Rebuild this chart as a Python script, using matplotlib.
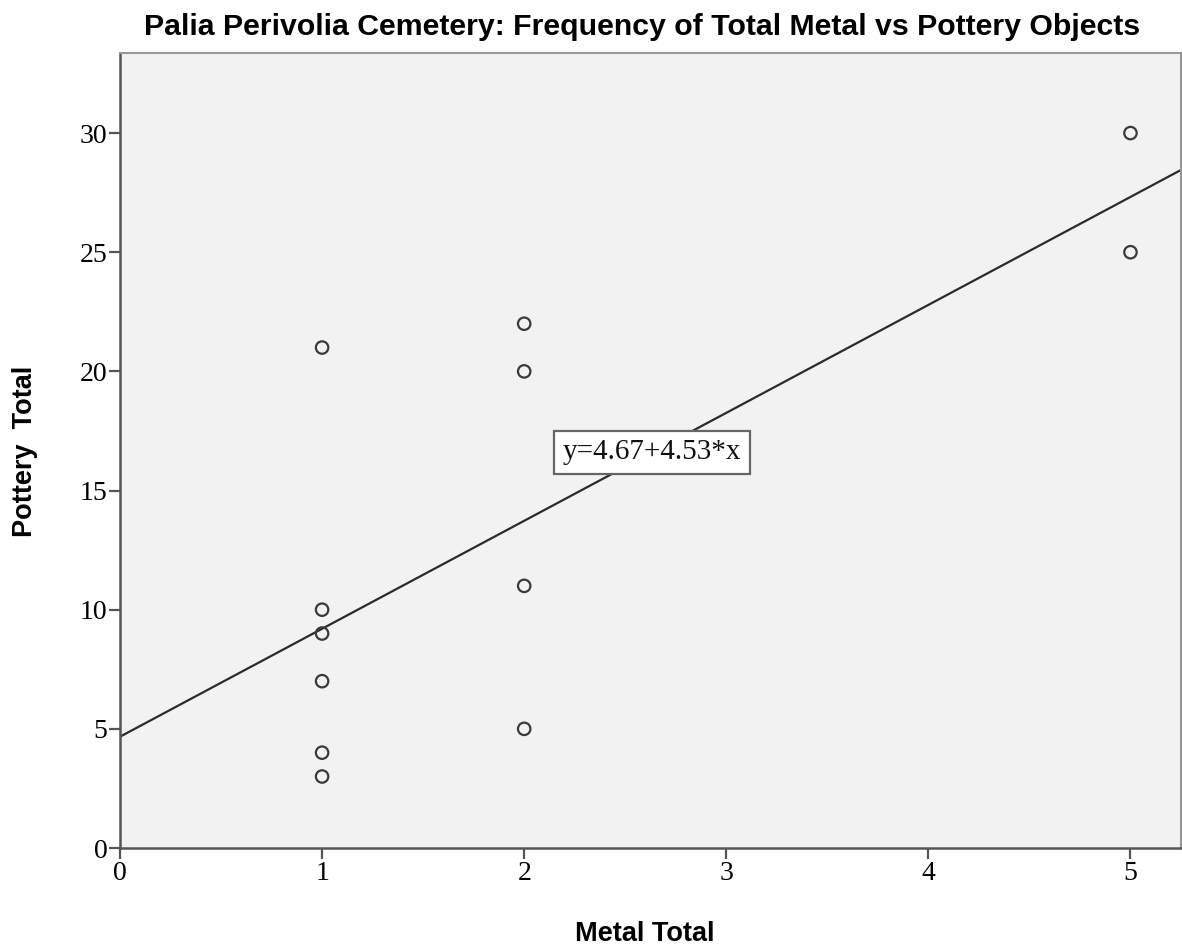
import matplotlib
matplotlib.use("Agg")
import matplotlib.pyplot as plt
import numpy as np

metal_total = [1, 1, 1, 1, 1, 1, 2, 2, 2, 2, 5, 5]
pottery_total = [21, 10, 9, 7, 4, 3, 22, 20, 11, 5, 30, 25]
intercept = 4.67
slope = 4.53
x_ticks = [0, 1, 2, 3, 4, 5]
y_ticks = [0, 5, 10, 15, 20, 25, 30]

fig = plt.figure(figsize=(11.82, 9.52), dpi=100)
ax = fig.add_axes([120/1182, 104/952, 1061/1182, 795/952])
ax.set_facecolor("#F2F2F2")

xmax = 5.25
ymax = 33.36
ax.set_xlim(0, xmax)
ax.set_ylim(0, ymax)

xs = np.array([0, xmax])
ax.plot(xs, intercept + slope * xs, color="#2b2b2b", lw=1.6, zorder=2)
ax.scatter(metal_total, pottery_total, s=80, facecolors="none",
           edgecolors="#3a3a3a", linewidths=1.6, zorder=3)

ax.text(2.63, 16.6, f"y={intercept:.2f}+{slope:.2f}*x", family="Liberation Serif",
        fontsize=21, ha="center", va="center", color="#111111",
        bbox=dict(boxstyle="square,pad=0.3", fc="white", ec="#666666", lw=1.6),
        zorder=4)

ax.set_xticks(x_ticks)
ax.set_yticks(y_ticks)
ax.set_xticklabels([str(t) for t in x_ticks], family="Liberation Serif", fontsize=20)
ax.set_yticklabels([str(t) for t in y_ticks], family="Liberation Serif", fontsize=20)
ax.tick_params(direction="out", length=8, width=1.6, color="#555555", pad=1)

for s in ["left", "bottom"]:
    ax.spines[s].set_color("#555555")
    ax.spines[s].set_linewidth(1.8)
for s in ["top", "right"]:
    ax.spines[s].set_color("#999999")
    ax.spines[s].set_linewidth(1.5)

fig.text(645/1182, 1 - 934/952, "Metal Total", family="Liberation Sans",
         fontweight="bold", fontsize=19.5, ha="center", va="center")
fig.text(25/1182, 1 - 451/952, "Pottery  Total", family="Liberation Sans",
         fontweight="bold", fontsize=19.5, ha="center", va="center", rotation=90)
fig.text(642/1182, 1 - 27/952,
         "Palia Perivolia Cemetery: Frequency of Total Metal vs Pottery Objects",
         family="Liberation Sans", fontweight="bold", fontsize=21.8,
         ha="center", va="center")

fig.savefig("out.png", dpi=100)
